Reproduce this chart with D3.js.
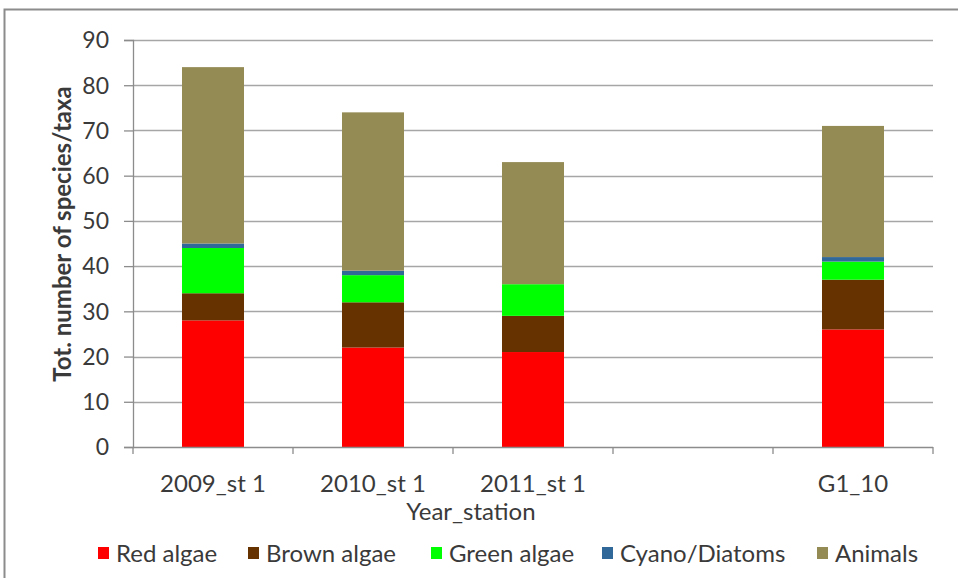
<!DOCTYPE html>
<html>
<head>
<meta charset="utf-8">
<script src="https://cdn.jsdelivr.net/npm/d3@7"></script>
<style>
  html, body { margin: 0; padding: 0; background: #fff; }
  svg text { font-family: Lato, "Open Sans", sans-serif; fill: #3a3a3a; }
</style>
</head>
<body>
<svg id="chart" width="958" height="578"></svg>
<script>
// Stations / years along the x axis (one empty slot kept as in the survey layout)
const categories = ["2009_st 1", "2010_st 1", "2011_st 1", "", "G1_10"];
const seriesNames = ["Red algae", "Brown algae", "Green algae", "Cyano/Diatoms", "Animals"];
const seriesColors = ["#ff0000", "#663300", "#00ff00", "#31689a", "#948a54"];

// Number of species/taxa per group and station
const redAlgae     = [28, 22, 21, 0, 26];
const brownAlgae   = [6, 10, 8, 0, 11];
const greenAlgae   = [10, 6, 7, 0, 4];
const cyanoDiatoms = [1, 1, 0, 0, 1];
const animals      = [39, 35, 27, 0, 29];

const yTicks = [0, 10, 20, 30, 40, 50, 60, 70, 80, 90];

const svg = d3.select("#chart");

// outer frame
svg.append("rect").attr("x", 4.5).attr("y", 9.5).attr("width", 960).attr("height", 580)
  .attr("fill", "none").attr("stroke", "#8c8c8c").attr("stroke-width", 2);

const plot = { left: 133, right: 933, top: 40, bottom: 447 };

const x = d3.scaleBand().domain(d3.range(categories.length))
  .range([plot.left, plot.right]).paddingInner(0).paddingOuter(0);
const y = d3.scaleLinear().domain([0, 90]).range([plot.bottom, plot.top]);

const rows = categories.map((c, i) => ({
  cat: i,
  "Red algae": redAlgae[i],
  "Brown algae": brownAlgae[i],
  "Green algae": greenAlgae[i],
  "Cyano/Diatoms": cyanoDiatoms[i],
  "Animals": animals[i]
}));
const stacked = d3.stack().keys(seriesNames)(rows);

// gridlines
svg.append("g").selectAll("line").data(yTicks.filter(t => t > 0)).join("line")
  .attr("x1", plot.left).attr("x2", plot.right)
  .attr("y1", d => Math.round(y(d)) + 0.5).attr("y2", d => Math.round(y(d)) + 0.5)
  .attr("stroke", "#a6a6a6").attr("stroke-width", 1.3);

// bars
const barW = 62;
const color = d3.scaleOrdinal().domain(seriesNames).range(seriesColors);
svg.append("g").selectAll("g").data(stacked).join("g")
  .attr("fill", d => color(d.key))
  .selectAll("rect").data(d => d.filter(s => s[1] > s[0])).join("rect")
  .attr("x", d => x(d.data.cat) + x.bandwidth() / 2 - barW / 2)
  .attr("width", barW)
  .attr("y", d => y(d[1]))
  .attr("height", d => y(d[0]) - y(d[1]));

// y axis
const yAxis = d3.axisLeft(y).tickValues(yTicks).tickSize(9).tickPadding(15);
const gy = svg.append("g").attr("transform", `translate(${plot.left},0)`).call(yAxis);
gy.select(".domain").attr("stroke", "#8c8c8c").attr("stroke-width", 1.3);
gy.selectAll(".tick line").attr("stroke", "#8c8c8c").attr("stroke-width", 1.3);
gy.selectAll(".tick text").style("font-size", "23px").attr("fill", "#3a3a3a").attr("dy", "0.34em");

// x axis: ticks at category boundaries
svg.append("line").attr("x1", plot.left).attr("x2", plot.right)
  .attr("y1", plot.bottom + 0.5).attr("y2", plot.bottom + 0.5)
  .attr("stroke", "#8c8c8c").attr("stroke-width", 1.3);
svg.append("g").selectAll("line").data(d3.range(categories.length + 1)).join("line")
  .attr("x1", i => plot.left + i * x.bandwidth()).attr("x2", i => plot.left + i * x.bandwidth())
  .attr("y1", plot.bottom).attr("y2", plot.bottom + 7)
  .attr("stroke", "#8c8c8c").attr("stroke-width", 1.3);
svg.append("g").selectAll("text").data(categories).join("text")
  .attr("x", (d, i) => x(i) + x.bandwidth() / 2)
  .attr("y", 492)
  .attr("text-anchor", "middle")
  .style("font-size", "24px")
  .text(d => d);

// axis titles
svg.append("text").attr("x", 471).attr("y", 520).attr("text-anchor", "middle")
  .style("font-size", "24px").text("Year_station");
svg.append("text").attr("transform", "translate(71,234) rotate(-90)")
  .attr("text-anchor", "middle").style("font-size", "24px").style("font-weight", "bold")
  .text("Tot. number of species/taxa");

// legend
const legendX = [98, 248, 431, 602, 817];
const lg = svg.append("g").selectAll("g").data(seriesNames).join("g")
  .attr("transform", (d, i) => `translate(${legendX[i]},553)`);
lg.append("rect").attr("x", 0).attr("y", -6).attr("width", 11).attr("height", 12)
  .attr("fill", d => color(d));
lg.append("text").attr("x", 18).attr("y", 0).attr("dy", "0.36em")
  .style("font-size", "24px").text(d => d);
</script>
</body>
</html>
